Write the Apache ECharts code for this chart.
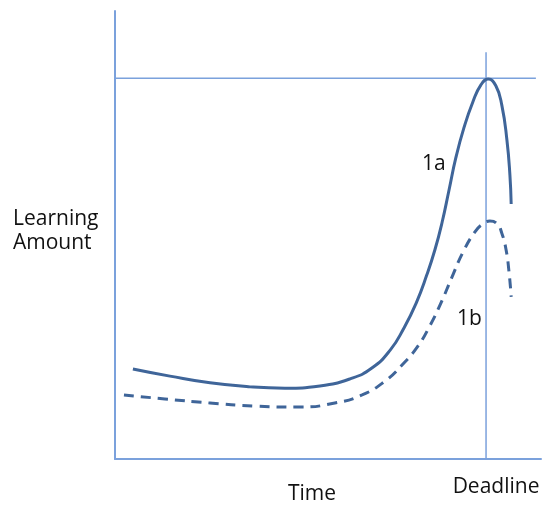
<!DOCTYPE html>
<html>
<head>
<meta charset="utf-8">
<script src="https://cdn.jsdelivr.net/npm/echarts@6/dist/echarts.min.js"></script>
<style>
html,body{margin:0;padding:0;background:#fff;}
#chart{width:550px;height:512px;}
</style>
</head>
<body>
<div id="chart"></div>
<script>
// Curve 1a (solid): [time, learning amount]
const curve1a = [
  [4.2,20.1],[12.9,18.5],[22.3,17.0],[31.7,16.1],[39.9,15.8],[48.1,16.3],[55.2,17.9],
  [60.3,20.3],[64.6,24.3],[67.8,29.2],[70.7,34.8],[73.2,41.1],[75.1,46.7],[76.8,52.9],
  [78.4,60.0],[80.0,67.2],[81.9,73.9],[84.0,79.7],[85.9,83.5],[87.6,84.8],[89.4,83.3],
  [90.8,79.0],[92.0,71.2],[92.7,63.4],[93.0,56.9]
];
// Curve 1b (dashed)
const curve1b = [
  [2.1,14.3],[11.7,13.4],[22.3,12.5],[32.9,11.8],[43.4,11.6],[51.6,12.5],[58.0,14.3],
  [63.4,17.4],[67.6,21.2],[71.1,25.2],[73.9,29.7],[76.5,34.8],[79.1,40.6],[81.7,46.2],
  [84.5,50.7],[86.4,52.5],[88.0,53.1],[89.7,52.5],[90.8,50.4],[91.8,46.7],[92.5,41.7],
  [93.0,36.2]
];
// Reference lines
const deadlineX = 87.1;
const peakY = 85.0;
const peakLine = [[0, peakY], [98.8, peakY]];
const deadlineLine = [[deadlineX, 0], [deadlineX, 90.8]];
// Texts
const yTitle = 'Learning\nAmount';
const xTitle = 'Time';
const deadlineLabel = 'Deadline';
const curveNames = ['1a', '1b'];

const FONT = '"Open Sans", "Liberation Sans", sans-serif';
const AXIS = '#7ba1dc';
const CURVE = '#3f6599';

const chart = echarts.init(document.getElementById('chart'), null, {renderer: 'canvas'});
chart.setOption({
  animation: false,
  backgroundColor: '#fff',
  grid: {left: 115, right: 9, top: 11, bottom: 53},
  xAxis: {
    type: 'value', min: 0, max: 100,
    axisLine: {show: true, lineStyle: {color: AXIS, width: 2}},
    axisTick: {show: false}, axisLabel: {show: false}, splitLine: {show: false}
  },
  yAxis: {
    type: 'value', min: 0, max: 100,
    axisLine: {show: true, lineStyle: {color: AXIS, width: 2}},
    axisTick: {show: false}, axisLabel: {show: false}, splitLine: {show: false}
  },
  graphic: [
    {type: 'text', left: 13, top: 207, style: {text: yTitle, font: '21px ' + FONT, fill: '#111', lineHeight: 24}},
    {type: 'text', left: 288, top: 484, style: {text: xTitle, font: '21px ' + FONT, fill: '#111'}},
    {type: 'text', left: 422, top: 154, style: {text: curveNames[0], font: '21px ' + FONT, fill: '#111'}},
    {type: 'text', left: 457, top: 309, style: {text: curveNames[1], font: '21px ' + FONT, fill: '#111'}}
  ],
  series: [
    {
      type: 'line', data: peakLine, symbol: 'none', silent: true, z: 1,
      lineStyle: {color: AXIS, width: 1.5}
    },
    {
      type: 'line', symbol: 'circle', symbolSize: 0, showSymbol: true, silent: true, z: 1,
      lineStyle: {color: AXIS, width: 1.5},
      data: [
        {value: deadlineLine[0], label: {show: true, position: 'bottom', distance: 18, offset: [10, 0],
          formatter: deadlineLabel, fontSize: 21, fontFamily: FONT, color: '#111'}},
        {value: deadlineLine[1]}
      ]
    },
    {
      type: 'line', name: curveNames[0], data: curve1a, smooth: 0.5, symbol: 'none', z: 3,
      lineStyle: {color: CURVE, width: 3}
    },
    {
      type: 'line', name: curveNames[1], data: curve1b, smooth: 0.5, symbol: 'none', z: 3,
      lineStyle: {color: CURVE, width: 3, type: [10, 7]}
    }
  ]
});
</script>
</body>
</html>
